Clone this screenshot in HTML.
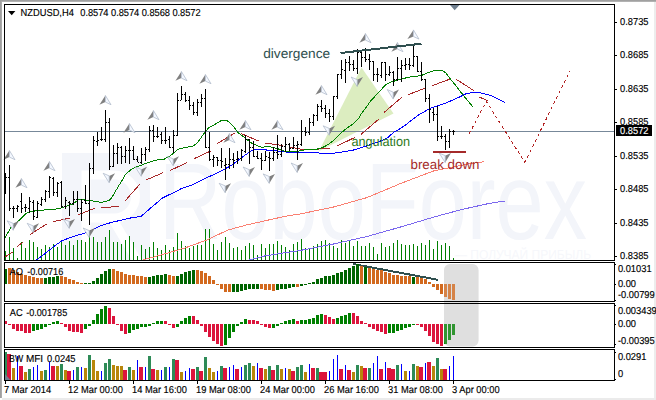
<!DOCTYPE html>
<html><head><meta charset="utf-8"><title>NZDUSD H4</title>
<style>html,body{margin:0;padding:0;background:#fff;overflow:hidden}body{width:656px;height:400px;position:relative;font-family:"Liberation Sans",sans-serif}</style></head>
<body>
<svg width="656" height="400" viewBox="0 0 656 400" text-rendering="geometricPrecision" style="position:absolute;left:0;top:0">
<rect width="656" height="400" fill="#fff"/>
<rect x="0" y="0" width="656" height="1" fill="#a0a0a0"/><rect x="0" y="1" width="656" height="1" fill="#b2b2b2"/>
<rect x="0" y="0" width="1" height="398" fill="#a0a0a0"/><rect x="1" y="1" width="1" height="397" fill="#ababab"/>
<rect x="654" y="2" width="2" height="396" fill="#ededed"/>
<rect x="2" y="398" width="654" height="2" fill="#ebebeb"/>
<polygon points="62,153 134,153 150,169 150,260 62,260" fill="#f3f5fa"/>
<path d="M86,262 V175 H114 a21,21 0 0 1 0,43 H88 M112,218 L138,262" fill="none" stroke="#fff" stroke-width="9"/>
<text x="159" y="239" font-family="Liberation Sans, sans-serif" font-size="109" fill="#f3f5fa" textLength="428" lengthAdjust="spacingAndGlyphs">RoboForex</text>
<text x="455" y="259" font-family="Liberation Sans, sans-serif" font-size="13" fill="#f6f7fb" textLength="136" lengthAdjust="spacingAndGlyphs">— ПОЛУЧАЙ ПРИБЫЛЬ</text>
<rect x="444" y="264" width="34.5" height="82.5" rx="6" ry="6" fill="#dfdfdf"/>
<polygon points="361.5,67.5 393.5,113.5 319,151" fill="#dcedc0"/>
<g shape-rendering="crispEdges">
<rect x="5" y="131" width="609" height="1" fill="#778899"/>
<rect x="5" y="251" width="1" height="9" fill="#008000"/>
<rect x="9" y="237" width="1" height="23" fill="#008000"/>
<rect x="13" y="248" width="1" height="12" fill="#008000"/>
<rect x="17" y="258" width="1" height="2" fill="#008000"/>
<rect x="21" y="242" width="1" height="18" fill="#008000"/>
<rect x="25" y="248" width="1" height="12" fill="#008000"/>
<rect x="29" y="240" width="1" height="20" fill="#008000"/>
<rect x="33" y="242" width="1" height="18" fill="#008000"/>
<rect x="37" y="247" width="1" height="13" fill="#008000"/>
<rect x="41" y="249" width="1" height="11" fill="#008000"/>
<rect x="45" y="245" width="1" height="15" fill="#008000"/>
<rect x="49" y="247" width="1" height="13" fill="#008000"/>
<rect x="53" y="244" width="1" height="16" fill="#008000"/>
<rect x="57" y="247" width="1" height="13" fill="#008000"/>
<rect x="61" y="240" width="1" height="20" fill="#008000"/>
<rect x="65" y="245" width="1" height="15" fill="#008000"/>
<rect x="69" y="241" width="1" height="19" fill="#008000"/>
<rect x="73" y="245" width="1" height="15" fill="#008000"/>
<rect x="77" y="240" width="1" height="20" fill="#008000"/>
<rect x="81" y="240" width="1" height="20" fill="#008000"/>
<rect x="85" y="242" width="1" height="18" fill="#008000"/>
<rect x="89" y="231" width="1" height="29" fill="#008000"/>
<rect x="93" y="237" width="1" height="23" fill="#008000"/>
<rect x="97" y="242" width="1" height="18" fill="#008000"/>
<rect x="101" y="242" width="1" height="18" fill="#008000"/>
<rect x="105" y="237" width="1" height="23" fill="#008000"/>
<rect x="109" y="230" width="1" height="30" fill="#008000"/>
<rect x="113" y="242" width="1" height="18" fill="#008000"/>
<rect x="117" y="242" width="1" height="18" fill="#008000"/>
<rect x="121" y="244" width="1" height="16" fill="#008000"/>
<rect x="125" y="240" width="1" height="20" fill="#008000"/>
<rect x="129" y="236" width="1" height="24" fill="#008000"/>
<rect x="133" y="242" width="1" height="18" fill="#008000"/>
<rect x="137" y="256" width="1" height="4" fill="#008000"/>
<rect x="141" y="245" width="1" height="15" fill="#008000"/>
<rect x="145" y="249" width="1" height="11" fill="#008000"/>
<rect x="149" y="247" width="1" height="13" fill="#008000"/>
<rect x="153" y="242" width="1" height="18" fill="#008000"/>
<rect x="157" y="248" width="1" height="12" fill="#008000"/>
<rect x="161" y="250" width="1" height="10" fill="#008000"/>
<rect x="165" y="245" width="1" height="15" fill="#008000"/>
<rect x="169" y="250" width="1" height="10" fill="#008000"/>
<rect x="173" y="247" width="1" height="13" fill="#008000"/>
<rect x="177" y="233" width="1" height="27" fill="#008000"/>
<rect x="181" y="241" width="1" height="19" fill="#008000"/>
<rect x="185" y="246" width="1" height="14" fill="#008000"/>
<rect x="189" y="248" width="1" height="12" fill="#008000"/>
<rect x="193" y="246" width="1" height="14" fill="#008000"/>
<rect x="197" y="245" width="1" height="15" fill="#008000"/>
<rect x="201" y="245" width="1" height="15" fill="#008000"/>
<rect x="205" y="229" width="1" height="31" fill="#008000"/>
<rect x="209" y="229" width="1" height="31" fill="#008000"/>
<rect x="213" y="244" width="1" height="16" fill="#008000"/>
<rect x="217" y="250" width="1" height="10" fill="#008000"/>
<rect x="221" y="242" width="1" height="18" fill="#008000"/>
<rect x="225" y="237" width="1" height="23" fill="#008000"/>
<rect x="229" y="243" width="1" height="17" fill="#008000"/>
<rect x="233" y="248" width="1" height="12" fill="#008000"/>
<rect x="237" y="247" width="1" height="13" fill="#008000"/>
<rect x="241" y="250" width="1" height="10" fill="#008000"/>
<rect x="245" y="246" width="1" height="14" fill="#008000"/>
<rect x="249" y="243" width="1" height="17" fill="#008000"/>
<rect x="253" y="245" width="1" height="15" fill="#008000"/>
<rect x="257" y="255" width="1" height="5" fill="#008000"/>
<rect x="261" y="244" width="1" height="16" fill="#008000"/>
<rect x="265" y="248" width="1" height="12" fill="#008000"/>
<rect x="269" y="244" width="1" height="16" fill="#008000"/>
<rect x="273" y="244" width="1" height="16" fill="#008000"/>
<rect x="277" y="241" width="1" height="19" fill="#008000"/>
<rect x="281" y="245" width="1" height="15" fill="#008000"/>
<rect x="285" y="247" width="1" height="13" fill="#008000"/>
<rect x="289" y="250" width="1" height="10" fill="#008000"/>
<rect x="293" y="244" width="1" height="16" fill="#008000"/>
<rect x="297" y="242" width="1" height="18" fill="#008000"/>
<rect x="301" y="239" width="1" height="21" fill="#008000"/>
<rect x="305" y="248" width="1" height="12" fill="#008000"/>
<rect x="309" y="248" width="1" height="12" fill="#008000"/>
<rect x="313" y="246" width="1" height="14" fill="#008000"/>
<rect x="317" y="244" width="1" height="16" fill="#008000"/>
<rect x="321" y="241" width="1" height="19" fill="#008000"/>
<rect x="325" y="240" width="1" height="20" fill="#008000"/>
<rect x="329" y="243" width="1" height="17" fill="#008000"/>
<rect x="333" y="246" width="1" height="14" fill="#008000"/>
<rect x="337" y="248" width="1" height="12" fill="#008000"/>
<rect x="341" y="240" width="1" height="20" fill="#008000"/>
<rect x="345" y="243" width="1" height="17" fill="#008000"/>
<rect x="349" y="241" width="1" height="19" fill="#008000"/>
<rect x="353" y="246" width="1" height="14" fill="#008000"/>
<rect x="357" y="241" width="1" height="19" fill="#008000"/>
<rect x="361" y="246" width="1" height="14" fill="#008000"/>
<rect x="365" y="246" width="1" height="14" fill="#008000"/>
<rect x="369" y="243" width="1" height="17" fill="#008000"/>
<rect x="373" y="247" width="1" height="13" fill="#008000"/>
<rect x="377" y="254" width="1" height="6" fill="#008000"/>
<rect x="381" y="243" width="1" height="17" fill="#008000"/>
<rect x="385" y="247" width="1" height="13" fill="#008000"/>
<rect x="389" y="246" width="1" height="14" fill="#008000"/>
<rect x="393" y="243" width="1" height="17" fill="#008000"/>
<rect x="397" y="240" width="1" height="20" fill="#008000"/>
<rect x="401" y="244" width="1" height="16" fill="#008000"/>
<rect x="405" y="245" width="1" height="15" fill="#008000"/>
<rect x="409" y="245" width="1" height="15" fill="#008000"/>
<rect x="413" y="244" width="1" height="16" fill="#008000"/>
<rect x="417" y="246" width="1" height="14" fill="#008000"/>
<rect x="421" y="243" width="1" height="17" fill="#008000"/>
<rect x="425" y="245" width="1" height="15" fill="#008000"/>
<rect x="429" y="240" width="1" height="20" fill="#008000"/>
<rect x="433" y="249" width="1" height="11" fill="#008000"/>
<rect x="437" y="241" width="1" height="19" fill="#008000"/>
<rect x="441" y="245" width="1" height="15" fill="#008000"/>
<rect x="445" y="243" width="1" height="17" fill="#008000"/>
<rect x="449" y="246" width="1" height="14" fill="#008000"/>
<rect x="453" y="258" width="1" height="2" fill="#008000"/>
</g>
<g fill="none" stroke-width="1" shape-rendering="crispEdges">
<polyline points="142.7,260.0 161.0,255.0 185.4,247.8 206.7,240.0 228.0,230.0 246.3,225.0 270.7,219.5 289.0,215.5 300.0,214.0 333.5,207.0 367.0,197.6 400.6,183.5 434.0,170.8 467.7,164.0 484.4,161.7" stroke="#fa8072"/>
<polyline points="249.4,260.0 264.6,256.0 283.0,253.0 300.0,250.5 333.5,244.0 367.0,236.5 400.6,227.0 434.0,217.0 461.0,209.7 487.8,203.7 504.6,201.0" stroke="#7b68ee"/>
<polyline points="36.6,260.0 45.7,253.0 54.9,245.7 62.2,240.6 73.2,236.6 82.3,233.8 89.6,231.5 100.6,225.6 109.8,222.9 115.0,221.6 130.5,218.0 141.0,216.4 151.8,207.0 162.5,198.0 176.0,191.4 181.0,188.8 193.5,184.4 206.0,178.0 218.5,172.5 231.0,165.6 236.0,162.0 241.0,158.0 247.0,153.8 251.0,151.0 255.0,149.4 262.0,149.5 270.0,150.4 280.0,151.2 288.0,152.2 316.0,152.2 321.0,153.5 331.0,153.5 341.0,152.2 353.5,150.0 366.0,146.2 378.5,141.9 387.2,138.0 393.5,132.5 398.0,130.0 405.4,125.0 418.5,115.0 429.8,108.5 446.0,103.0 458.5,97.5 466.0,93.8 473.5,92.2 478.0,92.2 491.8,95.8 505.0,102.7" stroke="#0000ff"/>
<line x1="5.5" y1="256.7" x2="12.8" y2="252" stroke="#a82828"/>
<line x1="17.4" y1="246.6" x2="22.9" y2="242" stroke="#a82828"/>
<line x1="30.2" y1="234.4" x2="46.6" y2="224" stroke="#a82828"/>
<line x1="53" y1="221.6" x2="70.4" y2="218" stroke="#a82828"/>
<line x1="77.7" y1="215" x2="95" y2="208.2" stroke="#a82828"/>
<line x1="101.5" y1="207.7" x2="119" y2="206.4" stroke="#a82828"/>
<line x1="125" y1="201" x2="140" y2="184" stroke="#a82828"/>
<line x1="146" y1="180" x2="163.5" y2="172.5" stroke="#a82828"/>
<line x1="170" y1="170.6" x2="187" y2="162.5" stroke="#a82828"/>
<line x1="194" y1="158.75" x2="211.5" y2="150.6" stroke="#a82828"/>
<line x1="217" y1="143.75" x2="235" y2="133" stroke="#a82828"/>
<line x1="241" y1="133.5" x2="258.5" y2="141" stroke="#a82828"/>
<line x1="265" y1="143" x2="283" y2="145.6" stroke="#a82828"/>
<line x1="290" y1="147" x2="304" y2="149.75" stroke="#a82828"/>
<line x1="311" y1="149.75" x2="330.4" y2="148" stroke="#a82828"/>
<line x1="337" y1="146" x2="354.75" y2="137.5" stroke="#a82828"/>
<line x1="361" y1="134.4" x2="378.5" y2="119.4" stroke="#a82828"/>
<line x1="384" y1="112.5" x2="401.6" y2="97.5" stroke="#a82828"/>
<line x1="408" y1="94.75" x2="425.4" y2="88" stroke="#a82828"/>
<line x1="432.25" y1="85.6" x2="449.75" y2="79.2" stroke="#a82828"/>
<line x1="456" y1="79.2" x2="473.7" y2="90.5" stroke="#a82828"/>
<line x1="479.4" y1="97" x2="488.5" y2="101.3" stroke="#a82828"/>
<polyline points="5.0,237.5 11.0,227.4 18.3,221.0 27.4,212.4 36.6,210.6 58.5,208.8 63.0,207.3 73.0,204.0 78.0,200.0 84.2,199.8 90.5,200.6 96.8,201.5 101.8,202.5 109.2,200.2 111.8,197.5 115.5,191.2 119.2,185.0 123.0,178.8 125.5,174.4 130.5,170.0 134.2,167.8 140.5,165.6 148.0,162.5 156.8,160.0 163.5,159.5 170.0,156.0 178.0,149.4 185.0,147.5 193.5,146.0 198.0,142.0 205.0,132.0 209.0,127.5 212.0,126.0 218.0,122.5 222.0,120.0 226.0,120.0 229.0,122.0 233.0,126.0 238.0,132.5 245.0,138.0 252.0,143.5 258.0,146.0 262.0,147.5 268.0,146.2 274.0,147.8 280.0,149.4 284.0,151.0 288.0,152.0 296.0,151.6 304.0,150.0 312.0,149.0 316.0,149.4 322.0,147.8 328.5,144.4 334.8,139.4 341.0,133.0 347.0,128.0 353.5,123.8 358.5,118.8 359.8,116.0 366.0,107.5 371.0,100.6 378.5,92.5 386.0,84.4 391.0,82.0 398.0,80.0 408.5,77.2 421.0,75.6 428.5,72.5 434.8,70.4 442.2,70.4 446.0,73.0 451.0,80.0 455.4,85.0 463.5,95.6 473.0,107.0" stroke="#008000"/>
<polyline points="469.2,133.8 486.3,101.3 524.8,162.4 570.2,70.5" stroke="#b22222" stroke-dasharray="3 3"/>
</g>
<g fill="#000" shape-rendering="crispEdges">
<rect x="5" y="173" width="1" height="21"/>
<rect x="6" y="177" width="1" height="1"/>
<rect x="9" y="165" width="1" height="46"/>
<rect x="8" y="177" width="1" height="1"/>
<rect x="10" y="208" width="1" height="1"/>
<rect x="13" y="206" width="1" height="12"/>
<rect x="12" y="208" width="1" height="1"/>
<rect x="14" y="208" width="1" height="1"/>
<rect x="17" y="205" width="1" height="7"/>
<rect x="16" y="208" width="1" height="1"/>
<rect x="18" y="206" width="1" height="1"/>
<rect x="21" y="193" width="1" height="20"/>
<rect x="20" y="201" width="1" height="1"/>
<rect x="22" y="208" width="1" height="1"/>
<rect x="25" y="204" width="1" height="8"/>
<rect x="24" y="207" width="1" height="1"/>
<rect x="26" y="207" width="1" height="1"/>
<rect x="29" y="197" width="1" height="16"/>
<rect x="28" y="208" width="1" height="1"/>
<rect x="30" y="201" width="1" height="1"/>
<rect x="33" y="200" width="1" height="20"/>
<rect x="32" y="202" width="1" height="1"/>
<rect x="34" y="216" width="1" height="1"/>
<rect x="37" y="201" width="1" height="17"/>
<rect x="36" y="217" width="1" height="1"/>
<rect x="38" y="203" width="1" height="1"/>
<rect x="41" y="197" width="1" height="9"/>
<rect x="40" y="204" width="1" height="1"/>
<rect x="42" y="199" width="1" height="1"/>
<rect x="45" y="190" width="1" height="12"/>
<rect x="44" y="199" width="1" height="1"/>
<rect x="46" y="191" width="1" height="1"/>
<rect x="49" y="176" width="1" height="22"/>
<rect x="48" y="191" width="1" height="1"/>
<rect x="50" y="177" width="1" height="1"/>
<rect x="53" y="177" width="1" height="19"/>
<rect x="52" y="178" width="1" height="1"/>
<rect x="54" y="192" width="1" height="1"/>
<rect x="57" y="182" width="1" height="15"/>
<rect x="56" y="192" width="1" height="1"/>
<rect x="58" y="183" width="1" height="1"/>
<rect x="61" y="181" width="1" height="27"/>
<rect x="60" y="182" width="1" height="1"/>
<rect x="62" y="206" width="1" height="1"/>
<rect x="65" y="197" width="1" height="12"/>
<rect x="64" y="206" width="1" height="1"/>
<rect x="66" y="200" width="1" height="1"/>
<rect x="69" y="201" width="1" height="15"/>
<rect x="68" y="202" width="1" height="1"/>
<rect x="70" y="203" width="1" height="1"/>
<rect x="73" y="191" width="1" height="14"/>
<rect x="72" y="203" width="1" height="1"/>
<rect x="74" y="199" width="1" height="1"/>
<rect x="77" y="191" width="1" height="21"/>
<rect x="76" y="199" width="1" height="1"/>
<rect x="78" y="208" width="1" height="1"/>
<rect x="81" y="199" width="1" height="22"/>
<rect x="80" y="208" width="1" height="1"/>
<rect x="82" y="202" width="1" height="1"/>
<rect x="85" y="185" width="1" height="19"/>
<rect x="84" y="200" width="1" height="1"/>
<rect x="86" y="203" width="1" height="1"/>
<rect x="89" y="163" width="1" height="62"/>
<rect x="88" y="203" width="1" height="1"/>
<rect x="90" y="168" width="1" height="1"/>
<rect x="93" y="136" width="1" height="38"/>
<rect x="92" y="168" width="1" height="1"/>
<rect x="94" y="140" width="1" height="1"/>
<rect x="97" y="132" width="1" height="14"/>
<rect x="96" y="141" width="1" height="1"/>
<rect x="98" y="140" width="1" height="1"/>
<rect x="101" y="127" width="1" height="14"/>
<rect x="100" y="139" width="1" height="1"/>
<rect x="102" y="139" width="1" height="1"/>
<rect x="105" y="110" width="1" height="32"/>
<rect x="104" y="139" width="1" height="1"/>
<rect x="106" y="122" width="1" height="1"/>
<rect x="109" y="118" width="1" height="52"/>
<rect x="108" y="122" width="1" height="1"/>
<rect x="110" y="166" width="1" height="1"/>
<rect x="113" y="145" width="1" height="22"/>
<rect x="112" y="166" width="1" height="1"/>
<rect x="114" y="153" width="1" height="1"/>
<rect x="117" y="143" width="1" height="21"/>
<rect x="116" y="153" width="1" height="1"/>
<rect x="118" y="147" width="1" height="1"/>
<rect x="121" y="146" width="1" height="18"/>
<rect x="120" y="147" width="1" height="1"/>
<rect x="122" y="156" width="1" height="1"/>
<rect x="125" y="146" width="1" height="17"/>
<rect x="124" y="156" width="1" height="1"/>
<rect x="126" y="150" width="1" height="1"/>
<rect x="129" y="138" width="1" height="26"/>
<rect x="128" y="150" width="1" height="1"/>
<rect x="130" y="150" width="1" height="1"/>
<rect x="133" y="146" width="1" height="14"/>
<rect x="132" y="150" width="1" height="1"/>
<rect x="134" y="159" width="1" height="1"/>
<rect x="137" y="156" width="1" height="6"/>
<rect x="136" y="159" width="1" height="1"/>
<rect x="138" y="162" width="1" height="1"/>
<rect x="141" y="148" width="1" height="16"/>
<rect x="140" y="162" width="1" height="1"/>
<rect x="142" y="154" width="1" height="1"/>
<rect x="145" y="147" width="1" height="14"/>
<rect x="144" y="154" width="1" height="1"/>
<rect x="146" y="149" width="1" height="1"/>
<rect x="149" y="126" width="1" height="26"/>
<rect x="148" y="149" width="1" height="1"/>
<rect x="150" y="130" width="1" height="1"/>
<rect x="153" y="125" width="1" height="17"/>
<rect x="152" y="130" width="1" height="1"/>
<rect x="154" y="136" width="1" height="1"/>
<rect x="157" y="127" width="1" height="11"/>
<rect x="156" y="136" width="1" height="1"/>
<rect x="158" y="136" width="1" height="1"/>
<rect x="161" y="132" width="1" height="12"/>
<rect x="160" y="134" width="1" height="1"/>
<rect x="162" y="140" width="1" height="1"/>
<rect x="165" y="127" width="1" height="17"/>
<rect x="164" y="140" width="1" height="1"/>
<rect x="166" y="140" width="1" height="1"/>
<rect x="169" y="136" width="1" height="12"/>
<rect x="168" y="139" width="1" height="1"/>
<rect x="170" y="147" width="1" height="1"/>
<rect x="173" y="130" width="1" height="23"/>
<rect x="172" y="147" width="1" height="1"/>
<rect x="174" y="135" width="1" height="1"/>
<rect x="177" y="93" width="1" height="43"/>
<rect x="176" y="135" width="1" height="1"/>
<rect x="178" y="100" width="1" height="1"/>
<rect x="181" y="86" width="1" height="14"/>
<rect x="180" y="100" width="1" height="1"/>
<rect x="182" y="94" width="1" height="1"/>
<rect x="185" y="92" width="1" height="10"/>
<rect x="184" y="94" width="1" height="1"/>
<rect x="186" y="100" width="1" height="1"/>
<rect x="189" y="96" width="1" height="14"/>
<rect x="188" y="100" width="1" height="1"/>
<rect x="190" y="105" width="1" height="1"/>
<rect x="193" y="102" width="1" height="13"/>
<rect x="192" y="105" width="1" height="1"/>
<rect x="194" y="112" width="1" height="1"/>
<rect x="197" y="99" width="1" height="17"/>
<rect x="196" y="112" width="1" height="1"/>
<rect x="198" y="102" width="1" height="1"/>
<rect x="201" y="94" width="1" height="13"/>
<rect x="200" y="102" width="1" height="1"/>
<rect x="202" y="98" width="1" height="1"/>
<rect x="205" y="89" width="1" height="59"/>
<rect x="204" y="98" width="1" height="1"/>
<rect x="206" y="147" width="1" height="1"/>
<rect x="209" y="132" width="1" height="29"/>
<rect x="208" y="147" width="1" height="1"/>
<rect x="210" y="159" width="1" height="1"/>
<rect x="213" y="155" width="1" height="12"/>
<rect x="212" y="159" width="1" height="1"/>
<rect x="214" y="157" width="1" height="1"/>
<rect x="217" y="157" width="1" height="9"/>
<rect x="216" y="157" width="1" height="1"/>
<rect x="218" y="160" width="1" height="1"/>
<rect x="221" y="148" width="1" height="20"/>
<rect x="220" y="160" width="1" height="1"/>
<rect x="222" y="161" width="1" height="1"/>
<rect x="225" y="158" width="1" height="22"/>
<rect x="224" y="165" width="1" height="1"/>
<rect x="226" y="164" width="1" height="1"/>
<rect x="229" y="148" width="1" height="21"/>
<rect x="228" y="164" width="1" height="1"/>
<rect x="230" y="159" width="1" height="1"/>
<rect x="233" y="153" width="1" height="15"/>
<rect x="232" y="159" width="1" height="1"/>
<rect x="234" y="160" width="1" height="1"/>
<rect x="237" y="151" width="1" height="13"/>
<rect x="236" y="159" width="1" height="1"/>
<rect x="238" y="158" width="1" height="1"/>
<rect x="241" y="149" width="1" height="12"/>
<rect x="240" y="158" width="1" height="1"/>
<rect x="242" y="150" width="1" height="1"/>
<rect x="245" y="135" width="1" height="18"/>
<rect x="244" y="151" width="1" height="1"/>
<rect x="246" y="139" width="1" height="1"/>
<rect x="249" y="139" width="1" height="25"/>
<rect x="248" y="139" width="1" height="1"/>
<rect x="250" y="147" width="1" height="1"/>
<rect x="253" y="141" width="1" height="16"/>
<rect x="252" y="147" width="1" height="1"/>
<rect x="254" y="156" width="1" height="1"/>
<rect x="257" y="151" width="1" height="8"/>
<rect x="256" y="156" width="1" height="1"/>
<rect x="258" y="158" width="1" height="1"/>
<rect x="261" y="153" width="1" height="17"/>
<rect x="260" y="158" width="1" height="1"/>
<rect x="262" y="160" width="1" height="1"/>
<rect x="265" y="151" width="1" height="10"/>
<rect x="264" y="160" width="1" height="1"/>
<rect x="266" y="156" width="1" height="1"/>
<rect x="269" y="152" width="1" height="19"/>
<rect x="268" y="157" width="1" height="1"/>
<rect x="270" y="158" width="1" height="1"/>
<rect x="273" y="147" width="1" height="14"/>
<rect x="272" y="158" width="1" height="1"/>
<rect x="274" y="152" width="1" height="1"/>
<rect x="277" y="135" width="1" height="24"/>
<rect x="276" y="152" width="1" height="1"/>
<rect x="278" y="154" width="1" height="1"/>
<rect x="281" y="144" width="1" height="13"/>
<rect x="280" y="154" width="1" height="1"/>
<rect x="282" y="146" width="1" height="1"/>
<rect x="285" y="137" width="1" height="15"/>
<rect x="284" y="146" width="1" height="1"/>
<rect x="286" y="144" width="1" height="1"/>
<rect x="289" y="143" width="1" height="8"/>
<rect x="288" y="144" width="1" height="1"/>
<rect x="290" y="148" width="1" height="1"/>
<rect x="293" y="137" width="1" height="12"/>
<rect x="292" y="148" width="1" height="1"/>
<rect x="294" y="145" width="1" height="1"/>
<rect x="297" y="141" width="1" height="19"/>
<rect x="296" y="145" width="1" height="1"/>
<rect x="298" y="144" width="1" height="1"/>
<rect x="301" y="120" width="1" height="26"/>
<rect x="300" y="144" width="1" height="1"/>
<rect x="302" y="131" width="1" height="1"/>
<rect x="305" y="127" width="1" height="9"/>
<rect x="304" y="131" width="1" height="1"/>
<rect x="306" y="132" width="1" height="1"/>
<rect x="309" y="118" width="1" height="17"/>
<rect x="308" y="132" width="1" height="1"/>
<rect x="310" y="122" width="1" height="1"/>
<rect x="313" y="114" width="1" height="12"/>
<rect x="312" y="122" width="1" height="1"/>
<rect x="314" y="115" width="1" height="1"/>
<rect x="317" y="104" width="1" height="17"/>
<rect x="316" y="115" width="1" height="1"/>
<rect x="318" y="106" width="1" height="1"/>
<rect x="321" y="100" width="1" height="12"/>
<rect x="320" y="106" width="1" height="1"/>
<rect x="322" y="108" width="1" height="1"/>
<rect x="325" y="105" width="1" height="13"/>
<rect x="324" y="108" width="1" height="1"/>
<rect x="326" y="113" width="1" height="1"/>
<rect x="329" y="109" width="1" height="13"/>
<rect x="328" y="113" width="1" height="1"/>
<rect x="330" y="116" width="1" height="1"/>
<rect x="333" y="96" width="1" height="24"/>
<rect x="332" y="116" width="1" height="1"/>
<rect x="334" y="96" width="1" height="1"/>
<rect x="337" y="74" width="1" height="25"/>
<rect x="336" y="96" width="1" height="1"/>
<rect x="338" y="74" width="1" height="1"/>
<rect x="341" y="60" width="1" height="19"/>
<rect x="340" y="74" width="1" height="1"/>
<rect x="342" y="69" width="1" height="1"/>
<rect x="345" y="59" width="1" height="24"/>
<rect x="344" y="70" width="1" height="1"/>
<rect x="346" y="62" width="1" height="1"/>
<rect x="349" y="56" width="1" height="15"/>
<rect x="348" y="62" width="1" height="1"/>
<rect x="350" y="64" width="1" height="1"/>
<rect x="353" y="60" width="1" height="11"/>
<rect x="352" y="64" width="1" height="1"/>
<rect x="354" y="68" width="1" height="1"/>
<rect x="357" y="49" width="1" height="25"/>
<rect x="356" y="68" width="1" height="1"/>
<rect x="358" y="52" width="1" height="1"/>
<rect x="361" y="50" width="1" height="17"/>
<rect x="360" y="52" width="1" height="1"/>
<rect x="362" y="57" width="1" height="1"/>
<rect x="365" y="48" width="1" height="14"/>
<rect x="364" y="57" width="1" height="1"/>
<rect x="366" y="59" width="1" height="1"/>
<rect x="369" y="54" width="1" height="16"/>
<rect x="368" y="59" width="1" height="1"/>
<rect x="370" y="61" width="1" height="1"/>
<rect x="373" y="61" width="1" height="20"/>
<rect x="372" y="61" width="1" height="1"/>
<rect x="374" y="74" width="1" height="1"/>
<rect x="377" y="68" width="1" height="14"/>
<rect x="376" y="74" width="1" height="1"/>
<rect x="378" y="74" width="1" height="1"/>
<rect x="381" y="62" width="1" height="16"/>
<rect x="380" y="75" width="1" height="1"/>
<rect x="382" y="62" width="1" height="1"/>
<rect x="385" y="62" width="1" height="19"/>
<rect x="384" y="62" width="1" height="1"/>
<rect x="386" y="74" width="1" height="1"/>
<rect x="389" y="66" width="1" height="10"/>
<rect x="388" y="74" width="1" height="1"/>
<rect x="390" y="72" width="1" height="1"/>
<rect x="393" y="71" width="1" height="15"/>
<rect x="392" y="72" width="1" height="1"/>
<rect x="394" y="79" width="1" height="1"/>
<rect x="397" y="57" width="1" height="24"/>
<rect x="396" y="79" width="1" height="1"/>
<rect x="398" y="68" width="1" height="1"/>
<rect x="401" y="60" width="1" height="22"/>
<rect x="400" y="68" width="1" height="1"/>
<rect x="402" y="65" width="1" height="1"/>
<rect x="405" y="58" width="1" height="12"/>
<rect x="404" y="65" width="1" height="1"/>
<rect x="406" y="64" width="1" height="1"/>
<rect x="409" y="58" width="1" height="12"/>
<rect x="408" y="64" width="1" height="1"/>
<rect x="410" y="65" width="1" height="1"/>
<rect x="413" y="44" width="1" height="23"/>
<rect x="412" y="65" width="1" height="1"/>
<rect x="414" y="56" width="1" height="1"/>
<rect x="417" y="56" width="1" height="16"/>
<rect x="416" y="56" width="1" height="1"/>
<rect x="418" y="71" width="1" height="1"/>
<rect x="421" y="62" width="1" height="19"/>
<rect x="420" y="71" width="1" height="1"/>
<rect x="422" y="79" width="1" height="1"/>
<rect x="425" y="79" width="1" height="23"/>
<rect x="424" y="79" width="1" height="1"/>
<rect x="426" y="98" width="1" height="1"/>
<rect x="429" y="94" width="1" height="29"/>
<rect x="428" y="98" width="1" height="1"/>
<rect x="430" y="109" width="1" height="1"/>
<rect x="433" y="108" width="1" height="13"/>
<rect x="432" y="112" width="1" height="1"/>
<rect x="434" y="114" width="1" height="1"/>
<rect x="437" y="106" width="1" height="35"/>
<rect x="436" y="114" width="1" height="1"/>
<rect x="438" y="136" width="1" height="1"/>
<rect x="441" y="126" width="1" height="13"/>
<rect x="440" y="136" width="1" height="1"/>
<rect x="442" y="136" width="1" height="1"/>
<rect x="445" y="134" width="1" height="16"/>
<rect x="444" y="136" width="1" height="1"/>
<rect x="446" y="141" width="1" height="1"/>
<rect x="449" y="129" width="1" height="19"/>
<rect x="448" y="141" width="1" height="1"/>
<rect x="450" y="131" width="1" height="1"/>
<rect x="453" y="130" width="1" height="5"/>
<rect x="452" y="131" width="1" height="1"/>
<rect x="454" y="131" width="1" height="1"/>
</g>
<polygon points="9.4,150.5 3.4000000000000004,159.7 9.4,157.1" fill="#808080"/><polygon points="9.4,150.5 15.0,159.7 9.4,157.1" fill="#f4f8ff" stroke="#a9b4c6" stroke-width="0.7"/>
<polygon points="21.4,178.5 15.4,187.7 21.4,185.1" fill="#808080"/><polygon points="21.4,178.5 27.0,187.7 21.4,185.1" fill="#f4f8ff" stroke="#a9b4c6" stroke-width="0.7"/>
<polygon points="49.4,161.5 43.4,170.7 49.4,168.1" fill="#808080"/><polygon points="49.4,161.5 55.0,170.7 49.4,168.1" fill="#f4f8ff" stroke="#a9b4c6" stroke-width="0.7"/>
<polygon points="105.4,95.5 99.4,104.7 105.4,102.1" fill="#808080"/><polygon points="105.4,95.5 111.0,104.7 105.4,102.1" fill="#f4f8ff" stroke="#a9b4c6" stroke-width="0.7"/>
<polygon points="129.4,123.5 123.4,132.7 129.4,130.1" fill="#808080"/><polygon points="129.4,123.5 135.0,132.7 129.4,130.1" fill="#f4f8ff" stroke="#a9b4c6" stroke-width="0.7"/>
<polygon points="153.4,110.5 147.4,119.7 153.4,117.1" fill="#808080"/><polygon points="153.4,110.5 159.0,119.7 153.4,117.1" fill="#f4f8ff" stroke="#a9b4c6" stroke-width="0.7"/>
<polygon points="181.4,71.5 175.4,80.7 181.4,78.1" fill="#808080"/><polygon points="181.4,71.5 187.0,80.7 181.4,78.1" fill="#f4f8ff" stroke="#a9b4c6" stroke-width="0.7"/>
<polygon points="205.4,74.5 199.4,83.7 205.4,81.1" fill="#808080"/><polygon points="205.4,74.5 211.0,83.7 205.4,81.1" fill="#f4f8ff" stroke="#a9b4c6" stroke-width="0.7"/>
<polygon points="229.4,133.5 223.4,142.7 229.4,140.1" fill="#808080"/><polygon points="229.4,133.5 235.0,142.7 229.4,140.1" fill="#f4f8ff" stroke="#a9b4c6" stroke-width="0.7"/>
<polygon points="245.4,120.5 239.4,129.7 245.4,127.1" fill="#808080"/><polygon points="245.4,120.5 251.0,129.7 245.4,127.1" fill="#f4f8ff" stroke="#a9b4c6" stroke-width="0.7"/>
<polygon points="277.4,120.5 271.4,129.7 277.4,127.1" fill="#808080"/><polygon points="277.4,120.5 283.0,129.7 277.4,127.1" fill="#f4f8ff" stroke="#a9b4c6" stroke-width="0.7"/>
<polygon points="321.4,85.5 315.4,94.7 321.4,92.1" fill="#808080"/><polygon points="321.4,85.5 327.0,94.7 321.4,92.1" fill="#f4f8ff" stroke="#a9b4c6" stroke-width="0.7"/>
<polygon points="365.4,33.5 359.4,42.7 365.4,40.1" fill="#808080"/><polygon points="365.4,33.5 371.0,42.7 365.4,40.1" fill="#f4f8ff" stroke="#a9b4c6" stroke-width="0.7"/>
<polygon points="397.4,42.5 391.4,51.7 397.4,49.1" fill="#808080"/><polygon points="397.4,42.5 403.0,51.7 397.4,49.1" fill="#f4f8ff" stroke="#a9b4c6" stroke-width="0.7"/>
<polygon points="413.4,29.9 407.4,39.1 413.4,36.5" fill="#808080"/><polygon points="413.4,29.9 419.0,39.1 413.4,36.5" fill="#f4f8ff" stroke="#a9b4c6" stroke-width="0.7"/>
<polygon points="13.2,230.3 19.0,220.8 13.2,223.4" fill="#808080"/><polygon points="13.2,230.3 7.2,220.8 13.2,223.4" fill="#f4f8ff" stroke="#a9b4c6" stroke-width="0.7"/>
<polygon points="33.2,232.8 39.0,223.3 33.2,225.9" fill="#808080"/><polygon points="33.2,232.8 27.2,223.3 33.2,225.9" fill="#f4f8ff" stroke="#a9b4c6" stroke-width="0.7"/>
<polygon points="69.2,228.4 75.0,218.9 69.2,221.5" fill="#808080"/><polygon points="69.2,228.4 63.2,218.9 69.2,221.5" fill="#f4f8ff" stroke="#a9b4c6" stroke-width="0.7"/>
<polygon points="89.2,237.5 95.0,228.0 89.2,230.6" fill="#808080"/><polygon points="89.2,237.5 83.2,228.0 89.2,230.6" fill="#f4f8ff" stroke="#a9b4c6" stroke-width="0.7"/>
<polygon points="109.2,182.8 115.0,173.3 109.2,175.9" fill="#808080"/><polygon points="109.2,182.8 103.2,173.3 109.2,175.9" fill="#f4f8ff" stroke="#a9b4c6" stroke-width="0.7"/>
<polygon points="141.2,176.3 147.0,166.8 141.2,169.4" fill="#808080"/><polygon points="141.2,176.3 135.2,166.8 141.2,169.4" fill="#f4f8ff" stroke="#a9b4c6" stroke-width="0.7"/>
<polygon points="173.2,165.8 179.0,156.3 173.2,158.9" fill="#808080"/><polygon points="173.2,165.8 167.2,156.3 173.2,158.9" fill="#f4f8ff" stroke="#a9b4c6" stroke-width="0.7"/>
<polygon points="225.2,192.8 231.0,183.3 225.2,185.9" fill="#808080"/><polygon points="225.2,192.8 219.2,183.3 225.2,185.9" fill="#f4f8ff" stroke="#a9b4c6" stroke-width="0.7"/>
<polygon points="249.2,176.55 255.0,167.05 249.2,169.65" fill="#808080"/><polygon points="249.2,176.55 243.2,167.05 249.2,169.65" fill="#f4f8ff" stroke="#a9b4c6" stroke-width="0.7"/>
<polygon points="269.2,183.4 275.0,173.9 269.2,176.5" fill="#808080"/><polygon points="269.2,183.4 263.2,173.9 269.2,176.5" fill="#f4f8ff" stroke="#a9b4c6" stroke-width="0.7"/>
<polygon points="297.2,172.55 303.0,163.05 297.2,165.65" fill="#808080"/><polygon points="297.2,172.55 291.2,163.05 297.2,165.65" fill="#f4f8ff" stroke="#a9b4c6" stroke-width="0.7"/>
<polygon points="329.2,135.3 335.0,125.8 329.2,128.4" fill="#808080"/><polygon points="329.2,135.3 323.2,125.8 329.2,128.4" fill="#f4f8ff" stroke="#a9b4c6" stroke-width="0.7"/>
<polygon points="357.2,86.55 363.0,77.05 357.2,79.65" fill="#808080"/><polygon points="357.2,86.55 351.2,77.05 357.2,79.65" fill="#f4f8ff" stroke="#a9b4c6" stroke-width="0.7"/>
<polygon points="393.2,99.05 399.0,89.55 393.2,92.15" fill="#808080"/><polygon points="393.2,99.05 387.2,89.55 393.2,92.15" fill="#f4f8ff" stroke="#a9b4c6" stroke-width="0.7"/>
<polygon points="445.2,162.55 451.0,153.05 445.2,155.65" fill="#808080"/><polygon points="445.2,162.55 439.2,153.05 445.2,155.65" fill="#f4f8ff" stroke="#a9b4c6" stroke-width="0.7"/>
<line x1="340.5" y1="53" x2="421.5" y2="43.7" stroke="#2f4f4f" stroke-width="2" shape-rendering="crispEdges"/>
<line x1="353" y1="264" x2="438" y2="279.8" stroke="#2f4f4f" stroke-width="2" shape-rendering="crispEdges"/>
<rect x="433" y="151" width="33" height="2" fill="#a52a2a" shape-rendering="crispEdges"/>
<text x="263.2" y="57.8" font-family="Liberation Sans, sans-serif" font-size="13.33" fill="#2f4f4f" textLength="67" lengthAdjust="spacingAndGlyphs">divergence</text>
<text x="351.4" y="146.4" font-family="Liberation Sans, sans-serif" font-size="13.33" fill="#2f7a1c" textLength="58.7" lengthAdjust="spacingAndGlyphs">angulation</text>
<text x="410.5" y="168.5" font-family="Liberation Sans, sans-serif" font-size="13.33" fill="#a52a2a" textLength="69" lengthAdjust="spacingAndGlyphs">break down</text>
<g shape-rendering="crispEdges">
<rect x="5" y="269" width="2" height="15" fill="#006400"/>
<rect x="8" y="268" width="3" height="16" fill="#d2691e"/>
<rect x="12" y="270" width="3" height="14" fill="#d2691e"/>
<rect x="16" y="272" width="3" height="12" fill="#d2691e"/>
<rect x="20" y="274" width="3" height="10" fill="#d2691e"/>
<rect x="24" y="275" width="3" height="9" fill="#d2691e"/>
<rect x="28" y="276" width="3" height="8" fill="#d2691e"/>
<rect x="32" y="277" width="3" height="7" fill="#d2691e"/>
<rect x="36" y="278" width="3" height="6" fill="#d2691e"/>
<rect x="40" y="278" width="3" height="6" fill="#d2691e"/>
<rect x="44" y="278" width="3" height="6" fill="#006400"/>
<rect x="48" y="277" width="3" height="7" fill="#006400"/>
<rect x="52" y="277" width="3" height="7" fill="#006400"/>
<rect x="56" y="276" width="3" height="8" fill="#006400"/>
<rect x="60" y="276" width="3" height="8" fill="#d2691e"/>
<rect x="64" y="277" width="3" height="7" fill="#d2691e"/>
<rect x="68" y="279" width="3" height="5" fill="#d2691e"/>
<rect x="72" y="280" width="3" height="4" fill="#d2691e"/>
<rect x="76" y="282" width="3" height="2" fill="#d2691e"/>
<rect x="80" y="283" width="3" height="1" fill="#d2691e"/>
<rect x="84" y="283" width="3" height="1" fill="#006400"/>
<rect x="88" y="283" width="3" height="1" fill="#006400"/>
<rect x="92" y="281" width="3" height="3" fill="#006400"/>
<rect x="96" y="278" width="3" height="6" fill="#006400"/>
<rect x="100" y="274" width="3" height="10" fill="#006400"/>
<rect x="104" y="271" width="3" height="13" fill="#006400"/>
<rect x="108" y="269" width="3" height="15" fill="#006400"/>
<rect x="112" y="269" width="3" height="15" fill="#d2691e"/>
<rect x="116" y="271" width="3" height="13" fill="#d2691e"/>
<rect x="120" y="272" width="3" height="12" fill="#d2691e"/>
<rect x="124" y="274" width="3" height="10" fill="#d2691e"/>
<rect x="128" y="275" width="3" height="9" fill="#d2691e"/>
<rect x="132" y="275" width="3" height="9" fill="#d2691e"/>
<rect x="136" y="276" width="3" height="8" fill="#d2691e"/>
<rect x="140" y="276" width="3" height="8" fill="#d2691e"/>
<rect x="144" y="277" width="3" height="7" fill="#d2691e"/>
<rect x="148" y="277" width="3" height="7" fill="#006400"/>
<rect x="152" y="276" width="3" height="8" fill="#006400"/>
<rect x="156" y="275" width="3" height="9" fill="#006400"/>
<rect x="160" y="275" width="3" height="9" fill="#006400"/>
<rect x="164" y="274" width="3" height="10" fill="#006400"/>
<rect x="168" y="275" width="3" height="9" fill="#d2691e"/>
<rect x="172" y="276" width="3" height="8" fill="#d2691e"/>
<rect x="176" y="276" width="3" height="8" fill="#006400"/>
<rect x="180" y="274" width="3" height="10" fill="#006400"/>
<rect x="184" y="272" width="3" height="12" fill="#006400"/>
<rect x="188" y="271" width="3" height="13" fill="#006400"/>
<rect x="192" y="270" width="3" height="14" fill="#006400"/>
<rect x="196" y="270" width="3" height="14" fill="#d2691e"/>
<rect x="200" y="271" width="3" height="13" fill="#d2691e"/>
<rect x="204" y="273" width="3" height="11" fill="#d2691e"/>
<rect x="208" y="276" width="3" height="8" fill="#d2691e"/>
<rect x="212" y="280" width="3" height="4" fill="#d2691e"/>
<rect x="216" y="284" width="3" height="1" fill="#d2691e"/>
<rect x="220" y="284" width="3" height="5" fill="#d2691e"/>
<rect x="224" y="284" width="3" height="8" fill="#d2691e"/>
<rect x="228" y="284" width="3" height="8" fill="#d2691e"/>
<rect x="232" y="284" width="3" height="8" fill="#006400"/>
<rect x="236" y="284" width="3" height="8" fill="#006400"/>
<rect x="240" y="284" width="3" height="7" fill="#006400"/>
<rect x="244" y="284" width="3" height="6" fill="#006400"/>
<rect x="248" y="284" width="3" height="5" fill="#006400"/>
<rect x="252" y="284" width="3" height="5" fill="#006400"/>
<rect x="256" y="284" width="3" height="5" fill="#006400"/>
<rect x="260" y="284" width="3" height="5" fill="#d2691e"/>
<rect x="264" y="284" width="3" height="6" fill="#d2691e"/>
<rect x="268" y="284" width="3" height="6" fill="#d2691e"/>
<rect x="272" y="284" width="3" height="7" fill="#d2691e"/>
<rect x="276" y="284" width="3" height="6" fill="#006400"/>
<rect x="280" y="284" width="3" height="5" fill="#006400"/>
<rect x="284" y="284" width="3" height="5" fill="#006400"/>
<rect x="288" y="284" width="3" height="4" fill="#006400"/>
<rect x="292" y="284" width="3" height="3" fill="#006400"/>
<rect x="296" y="284" width="3" height="3" fill="#d2691e"/>
<rect x="300" y="284" width="3" height="2" fill="#006400"/>
<rect x="304" y="284" width="3" height="1" fill="#006400"/>
<rect x="308" y="283" width="3" height="1" fill="#006400"/>
<rect x="312" y="282" width="3" height="2" fill="#006400"/>
<rect x="316" y="279" width="3" height="5" fill="#006400"/>
<rect x="320" y="278" width="3" height="6" fill="#006400"/>
<rect x="324" y="276" width="3" height="8" fill="#006400"/>
<rect x="328" y="276" width="3" height="8" fill="#006400"/>
<rect x="332" y="275" width="3" height="9" fill="#006400"/>
<rect x="336" y="273" width="3" height="11" fill="#006400"/>
<rect x="340" y="272" width="3" height="12" fill="#006400"/>
<rect x="344" y="270" width="3" height="14" fill="#006400"/>
<rect x="348" y="268" width="3" height="16" fill="#006400"/>
<rect x="352" y="266" width="3" height="18" fill="#006400"/>
<rect x="356" y="264" width="3" height="20" fill="#006400"/>
<rect x="360" y="266" width="3" height="18" fill="#d2691e"/>
<rect x="364" y="267" width="3" height="17" fill="#006400"/>
<rect x="368" y="268" width="3" height="16" fill="#d2691e"/>
<rect x="372" y="269" width="3" height="15" fill="#d2691e"/>
<rect x="376" y="270" width="3" height="14" fill="#d2691e"/>
<rect x="380" y="270" width="3" height="14" fill="#d2691e"/>
<rect x="384" y="272" width="3" height="12" fill="#d2691e"/>
<rect x="388" y="273" width="3" height="11" fill="#d2691e"/>
<rect x="392" y="275" width="3" height="9" fill="#d2691e"/>
<rect x="396" y="275" width="3" height="9" fill="#d2691e"/>
<rect x="400" y="276" width="3" height="8" fill="#d2691e"/>
<rect x="404" y="276" width="3" height="8" fill="#d2691e"/>
<rect x="408" y="276" width="3" height="8" fill="#d2691e"/>
<rect x="412" y="277" width="3" height="7" fill="#006400"/>
<rect x="416" y="277" width="3" height="7" fill="#d2691e"/>
<rect x="420" y="278" width="3" height="6" fill="#d2691e"/>
<rect x="424" y="279" width="3" height="5" fill="#d2691e"/>
<rect x="428" y="282" width="3" height="2" fill="#d2691e"/>
<rect x="432" y="284" width="3" height="3" fill="#d2691e"/>
<rect x="436" y="284" width="3" height="6" fill="#d2691e"/>
<rect x="440" y="284" width="3" height="10" fill="#d2691e"/>
<rect x="444" y="284" width="3" height="13" fill="#d2691e"/>
<rect x="448" y="284" width="3" height="15" fill="#d2691e"/>
<rect x="452" y="284" width="3" height="16" fill="#d2691e"/>
<rect x="5" y="321" width="2" height="3" fill="#dc143c"/>
<rect x="8" y="324" width="3" height="1" fill="#dc143c"/>
<rect x="12" y="324" width="3" height="5" fill="#dc143c"/>
<rect x="16" y="324" width="3" height="7" fill="#dc143c"/>
<rect x="20" y="324" width="3" height="7" fill="#dc143c"/>
<rect x="24" y="324" width="3" height="9" fill="#dc143c"/>
<rect x="28" y="324" width="3" height="9" fill="#dc143c"/>
<rect x="32" y="324" width="3" height="7" fill="#008000"/>
<rect x="36" y="324" width="3" height="6" fill="#008000"/>
<rect x="40" y="324" width="3" height="5" fill="#008000"/>
<rect x="44" y="324" width="3" height="3" fill="#008000"/>
<rect x="48" y="324" width="3" height="1" fill="#008000"/>
<rect x="52" y="322" width="3" height="2" fill="#008000"/>
<rect x="56" y="321" width="3" height="3" fill="#008000"/>
<rect x="60" y="323" width="3" height="1" fill="#dc143c"/>
<rect x="64" y="324" width="3" height="3" fill="#dc143c"/>
<rect x="68" y="324" width="3" height="7" fill="#dc143c"/>
<rect x="72" y="324" width="3" height="8" fill="#dc143c"/>
<rect x="76" y="324" width="3" height="8" fill="#dc143c"/>
<rect x="80" y="324" width="3" height="9" fill="#dc143c"/>
<rect x="84" y="324" width="3" height="5" fill="#008000"/>
<rect x="88" y="324" width="3" height="2" fill="#008000"/>
<rect x="92" y="320" width="3" height="4" fill="#008000"/>
<rect x="96" y="314" width="3" height="10" fill="#008000"/>
<rect x="100" y="309" width="3" height="15" fill="#008000"/>
<rect x="104" y="306" width="3" height="18" fill="#008000"/>
<rect x="108" y="308" width="3" height="16" fill="#dc143c"/>
<rect x="112" y="316" width="3" height="8" fill="#dc143c"/>
<rect x="116" y="324" width="3" height="1" fill="#dc143c"/>
<rect x="120" y="324" width="3" height="7" fill="#dc143c"/>
<rect x="124" y="324" width="3" height="10" fill="#dc143c"/>
<rect x="128" y="324" width="3" height="9" fill="#008000"/>
<rect x="132" y="324" width="3" height="6" fill="#008000"/>
<rect x="136" y="324" width="3" height="5" fill="#008000"/>
<rect x="140" y="324" width="3" height="3" fill="#008000"/>
<rect x="144" y="324" width="3" height="3" fill="#008000"/>
<rect x="148" y="324" width="3" height="2" fill="#008000"/>
<rect x="152" y="323" width="3" height="1" fill="#008000"/>
<rect x="156" y="321" width="3" height="3" fill="#008000"/>
<rect x="160" y="321" width="3" height="3" fill="#008000"/>
<rect x="164" y="321" width="3" height="3" fill="#dc143c"/>
<rect x="168" y="324" width="3" height="1" fill="#dc143c"/>
<rect x="172" y="324" width="3" height="4" fill="#dc143c"/>
<rect x="176" y="324" width="3" height="3" fill="#008000"/>
<rect x="180" y="321" width="3" height="3" fill="#008000"/>
<rect x="184" y="318" width="3" height="6" fill="#008000"/>
<rect x="188" y="316" width="3" height="8" fill="#008000"/>
<rect x="192" y="316" width="3" height="8" fill="#dc143c"/>
<rect x="196" y="320" width="3" height="4" fill="#dc143c"/>
<rect x="200" y="324" width="3" height="2" fill="#dc143c"/>
<rect x="204" y="324" width="3" height="8" fill="#dc143c"/>
<rect x="208" y="324" width="3" height="13" fill="#dc143c"/>
<rect x="212" y="324" width="3" height="17" fill="#dc143c"/>
<rect x="216" y="324" width="3" height="20" fill="#dc143c"/>
<rect x="220" y="324" width="3" height="22" fill="#dc143c"/>
<rect x="224" y="324" width="3" height="21" fill="#008000"/>
<rect x="228" y="324" width="3" height="14" fill="#008000"/>
<rect x="232" y="324" width="3" height="8" fill="#008000"/>
<rect x="236" y="324" width="3" height="2" fill="#008000"/>
<rect x="240" y="322" width="3" height="2" fill="#008000"/>
<rect x="244" y="319" width="3" height="5" fill="#008000"/>
<rect x="248" y="320" width="3" height="4" fill="#dc143c"/>
<rect x="252" y="320" width="3" height="4" fill="#dc143c"/>
<rect x="256" y="321" width="3" height="3" fill="#dc143c"/>
<rect x="260" y="324" width="3" height="1" fill="#dc143c"/>
<rect x="264" y="324" width="3" height="3" fill="#dc143c"/>
<rect x="268" y="324" width="3" height="4" fill="#dc143c"/>
<rect x="272" y="324" width="3" height="4" fill="#008000"/>
<rect x="276" y="324" width="3" height="2" fill="#008000"/>
<rect x="280" y="323" width="3" height="1" fill="#008000"/>
<rect x="284" y="321" width="3" height="3" fill="#008000"/>
<rect x="288" y="320" width="3" height="4" fill="#008000"/>
<rect x="292" y="319" width="3" height="5" fill="#008000"/>
<rect x="296" y="321" width="3" height="3" fill="#dc143c"/>
<rect x="300" y="320" width="3" height="4" fill="#008000"/>
<rect x="304" y="320" width="3" height="4" fill="#008000"/>
<rect x="308" y="319" width="3" height="5" fill="#008000"/>
<rect x="312" y="318" width="3" height="6" fill="#008000"/>
<rect x="316" y="315" width="3" height="9" fill="#008000"/>
<rect x="320" y="314" width="3" height="10" fill="#008000"/>
<rect x="324" y="315" width="3" height="9" fill="#dc143c"/>
<rect x="328" y="317" width="3" height="7" fill="#dc143c"/>
<rect x="332" y="319" width="3" height="5" fill="#dc143c"/>
<rect x="336" y="318" width="3" height="6" fill="#008000"/>
<rect x="340" y="316" width="3" height="8" fill="#008000"/>
<rect x="344" y="315" width="3" height="9" fill="#008000"/>
<rect x="348" y="313" width="3" height="11" fill="#008000"/>
<rect x="352" y="313" width="3" height="11" fill="#dc143c"/>
<rect x="356" y="316" width="3" height="8" fill="#dc143c"/>
<rect x="360" y="321" width="3" height="3" fill="#dc143c"/>
<rect x="364" y="323" width="3" height="1" fill="#dc143c"/>
<rect x="368" y="324" width="3" height="3" fill="#dc143c"/>
<rect x="372" y="324" width="3" height="5" fill="#dc143c"/>
<rect x="376" y="324" width="3" height="7" fill="#dc143c"/>
<rect x="380" y="324" width="3" height="8" fill="#dc143c"/>
<rect x="384" y="324" width="3" height="10" fill="#dc143c"/>
<rect x="388" y="324" width="3" height="9" fill="#008000"/>
<rect x="392" y="324" width="3" height="9" fill="#008000"/>
<rect x="396" y="324" width="3" height="7" fill="#008000"/>
<rect x="400" y="324" width="3" height="6" fill="#008000"/>
<rect x="404" y="324" width="3" height="4" fill="#008000"/>
<rect x="408" y="324" width="3" height="3" fill="#008000"/>
<rect x="412" y="324" width="3" height="1" fill="#008000"/>
<rect x="416" y="324" width="3" height="1" fill="#dc143c"/>
<rect x="420" y="324" width="3" height="3" fill="#dc143c"/>
<rect x="424" y="324" width="3" height="7" fill="#dc143c"/>
<rect x="428" y="324" width="3" height="12" fill="#dc143c"/>
<rect x="432" y="324" width="3" height="18" fill="#dc143c"/>
<rect x="436" y="324" width="3" height="20" fill="#dc143c"/>
<rect x="440" y="324" width="3" height="22" fill="#dc143c"/>
<rect x="444" y="324" width="3" height="20" fill="#008000"/>
<rect x="448" y="324" width="3" height="16" fill="#008000"/>
<rect x="452" y="324" width="3" height="11" fill="#008000"/>
<rect x="5" y="352" width="2" height="28" fill="#2e8b57"/>
<rect x="7" y="354" width="4" height="26" fill="#dc143c"/>
<rect x="12" y="368" width="3" height="12" fill="#b8860b"/>
<rect x="17" y="356" width="1" height="24" fill="#0000ff"/>
<rect x="19" y="366" width="4" height="14" fill="#dc143c"/>
<rect x="24" y="372" width="3" height="8" fill="#b8860b"/>
<rect x="28" y="369" width="3" height="11" fill="#2e8b57"/>
<rect x="33" y="367" width="1" height="13" fill="#0000ff"/>
<rect x="37" y="365" width="1" height="15" fill="#0000ff"/>
<rect x="40" y="371" width="3" height="9" fill="#b8860b"/>
<rect x="44" y="370" width="3" height="10" fill="#2e8b57"/>
<rect x="49" y="362" width="1" height="18" fill="#0000ff"/>
<rect x="51" y="366" width="4" height="14" fill="#dc143c"/>
<rect x="56" y="366" width="3" height="14" fill="#b8860b"/>
<rect x="60" y="364" width="3" height="16" fill="#2e8b57"/>
<rect x="64" y="370" width="3" height="10" fill="#b8860b"/>
<rect x="67" y="371" width="4" height="9" fill="#dc143c"/>
<rect x="73" y="370" width="1" height="10" fill="#0000ff"/>
<rect x="76" y="367" width="3" height="13" fill="#2e8b57"/>
<rect x="81" y="367" width="1" height="13" fill="#0000ff"/>
<rect x="84" y="368" width="3" height="12" fill="#b8860b"/>
<rect x="88" y="355" width="3" height="25" fill="#2e8b57"/>
<rect x="92" y="360" width="3" height="20" fill="#b8860b"/>
<rect x="96" y="371" width="3" height="9" fill="#b8860b"/>
<rect x="101" y="371" width="1" height="9" fill="#0000ff"/>
<rect x="104" y="363" width="3" height="17" fill="#2e8b57"/>
<rect x="108" y="359" width="3" height="21" fill="#2e8b57"/>
<rect x="112" y="365" width="3" height="15" fill="#b8860b"/>
<rect x="116" y="366" width="3" height="14" fill="#b8860b"/>
<rect x="120" y="366" width="3" height="14" fill="#b8860b"/>
<rect x="123" y="370" width="4" height="10" fill="#dc143c"/>
<rect x="128" y="367" width="3" height="13" fill="#2e8b57"/>
<rect x="132" y="370" width="3" height="10" fill="#b8860b"/>
<rect x="137" y="360" width="1" height="20" fill="#0000ff"/>
<rect x="139" y="367" width="4" height="13" fill="#dc143c"/>
<rect x="145" y="367" width="1" height="13" fill="#0000ff"/>
<rect x="148" y="356" width="3" height="24" fill="#2e8b57"/>
<rect x="151" y="369" width="4" height="11" fill="#dc143c"/>
<rect x="156" y="370" width="3" height="10" fill="#b8860b"/>
<rect x="161" y="370" width="1" height="10" fill="#0000ff"/>
<rect x="164" y="367" width="3" height="13" fill="#2e8b57"/>
<rect x="169" y="367" width="1" height="13" fill="#0000ff"/>
<rect x="172" y="359" width="3" height="21" fill="#2e8b57"/>
<rect x="175" y="360" width="4" height="20" fill="#dc143c"/>
<rect x="180" y="372" width="3" height="8" fill="#b8860b"/>
<rect x="185" y="371" width="1" height="9" fill="#0000ff"/>
<rect x="189" y="368" width="1" height="12" fill="#0000ff"/>
<rect x="191" y="369" width="4" height="11" fill="#dc143c"/>
<rect x="196" y="367" width="3" height="13" fill="#2e8b57"/>
<rect x="199" y="371" width="4" height="9" fill="#dc143c"/>
<rect x="204" y="357" width="3" height="23" fill="#2e8b57"/>
<rect x="208" y="368" width="3" height="12" fill="#b8860b"/>
<rect x="212" y="372" width="3" height="8" fill="#b8860b"/>
<rect x="217" y="371" width="1" height="9" fill="#0000ff"/>
<rect x="220" y="366" width="3" height="14" fill="#2e8b57"/>
<rect x="223" y="368" width="4" height="12" fill="#dc143c"/>
<rect x="229" y="367" width="1" height="13" fill="#0000ff"/>
<rect x="233" y="365" width="1" height="15" fill="#0000ff"/>
<rect x="235" y="369" width="4" height="11" fill="#dc143c"/>
<rect x="241" y="367" width="1" height="13" fill="#0000ff"/>
<rect x="244" y="365" width="3" height="15" fill="#2e8b57"/>
<rect x="248" y="363" width="3" height="17" fill="#2e8b57"/>
<rect x="252" y="366" width="3" height="14" fill="#b8860b"/>
<rect x="257" y="363" width="1" height="17" fill="#0000ff"/>
<rect x="259" y="368" width="4" height="12" fill="#dc143c"/>
<rect x="264" y="369" width="3" height="11" fill="#b8860b"/>
<rect x="268" y="366" width="3" height="14" fill="#2e8b57"/>
<rect x="271" y="370" width="4" height="10" fill="#dc143c"/>
<rect x="276" y="365" width="3" height="15" fill="#2e8b57"/>
<rect x="280" y="369" width="3" height="11" fill="#b8860b"/>
<rect x="285" y="368" width="1" height="12" fill="#0000ff"/>
<rect x="288" y="369" width="3" height="11" fill="#b8860b"/>
<rect x="291" y="371" width="4" height="9" fill="#dc143c"/>
<rect x="296" y="367" width="3" height="13" fill="#2e8b57"/>
<rect x="300" y="365" width="3" height="15" fill="#2e8b57"/>
<rect x="304" y="372" width="3" height="8" fill="#b8860b"/>
<rect x="309" y="364" width="1" height="16" fill="#0000ff"/>
<rect x="311" y="368" width="4" height="12" fill="#dc143c"/>
<rect x="316" y="368" width="3" height="12" fill="#2e8b57"/>
<rect x="319" y="372" width="4" height="8" fill="#dc143c"/>
<rect x="323" y="372" width="4" height="8" fill="#dc143c"/>
<rect x="329" y="371" width="1" height="9" fill="#0000ff"/>
<rect x="333" y="359" width="1" height="21" fill="#0000ff"/>
<rect x="337" y="355" width="1" height="25" fill="#0000ff"/>
<rect x="339" y="369" width="4" height="11" fill="#dc143c"/>
<rect x="345" y="365" width="1" height="15" fill="#0000ff"/>
<rect x="347" y="370" width="4" height="10" fill="#dc143c"/>
<rect x="352" y="372" width="3" height="8" fill="#b8860b"/>
<rect x="356" y="365" width="3" height="15" fill="#2e8b57"/>
<rect x="360" y="366" width="3" height="14" fill="#b8860b"/>
<rect x="363" y="368" width="4" height="12" fill="#dc143c"/>
<rect x="368" y="368" width="3" height="12" fill="#2e8b57"/>
<rect x="373" y="363" width="1" height="17" fill="#0000ff"/>
<rect x="377" y="356" width="1" height="24" fill="#0000ff"/>
<rect x="379" y="369" width="4" height="11" fill="#dc143c"/>
<rect x="385" y="362" width="1" height="18" fill="#0000ff"/>
<rect x="387" y="368" width="4" height="12" fill="#dc143c"/>
<rect x="391" y="369" width="4" height="11" fill="#dc143c"/>
<rect x="396" y="365" width="3" height="15" fill="#2e8b57"/>
<rect x="401" y="364" width="1" height="16" fill="#0000ff"/>
<rect x="404" y="371" width="3" height="9" fill="#b8860b"/>
<rect x="409" y="371" width="1" height="9" fill="#0000ff"/>
<rect x="412" y="364" width="3" height="16" fill="#2e8b57"/>
<rect x="416" y="366" width="3" height="14" fill="#b8860b"/>
<rect x="419" y="367" width="4" height="13" fill="#dc143c"/>
<rect x="425" y="363" width="1" height="17" fill="#0000ff"/>
<rect x="427" y="362" width="4" height="18" fill="#dc143c"/>
<rect x="432" y="366" width="3" height="14" fill="#b8860b"/>
<rect x="436" y="358" width="3" height="22" fill="#2e8b57"/>
<rect x="440" y="369" width="3" height="11" fill="#b8860b"/>
<rect x="443" y="369" width="4" height="11" fill="#dc143c"/>
<rect x="449" y="366" width="1" height="14" fill="#0000ff"/>
<rect x="453" y="356" width="1" height="24" fill="#0000ff"/>
</g>
<rect x="444" y="264" width="34.5" height="82.5" rx="6" ry="6" fill="#dfdfdf" opacity="0.22"/>
<polygon points="5,374 5,380 10.5,380" fill="#708090"/>
<g fill="none" stroke="#000" stroke-width="1" shape-rendering="crispEdges">
<rect x="4.5" y="4.5" width="610" height="256"/>
<rect x="4.5" y="262.5" width="610" height="39"/>
<rect x="4.5" y="303.5" width="610" height="44"/>
<rect x="4.5" y="349.5" width="610" height="31"/>
</g>
<polygon points="450,5 459.5,5 454.7,10.3" fill="#708090"/>
<g fill="#000" shape-rendering="crispEdges">
<rect x="615" y="22" width="2" height="1"/>
<rect x="615" y="55" width="2" height="1"/>
<rect x="615" y="89" width="2" height="1"/>
<rect x="615" y="122" width="2" height="1"/>
<rect x="615" y="156" width="2" height="1"/>
<rect x="615" y="189" width="2" height="1"/>
<rect x="615" y="223" width="2" height="1"/>
<rect x="615" y="256" width="2" height="1"/>
<rect x="615" y="264" width="1" height="1"/>
<rect x="615" y="284" width="1" height="1"/>
<rect x="615" y="300" width="1" height="1"/>
<rect x="615" y="305" width="1" height="1"/>
<rect x="615" y="324" width="1" height="1"/>
<rect x="615" y="344" width="1" height="1"/>
<rect x="615" y="352" width="1" height="1"/>
<rect x="615" y="379" width="1" height="1"/>
<rect x="5" y="381" width="1" height="3"/>
<rect x="69" y="381" width="1" height="3"/>
<rect x="133" y="381" width="1" height="3"/>
<rect x="197" y="381" width="1" height="3"/>
<rect x="261" y="381" width="1" height="3"/>
<rect x="325" y="381" width="1" height="3"/>
<rect x="389" y="381" width="1" height="3"/>
<rect x="453" y="381" width="1" height="3"/>
</g>
<rect x="616" y="125" width="36" height="11" fill="#000" shape-rendering="crispEdges"/>
<text transform="translate(620 25.1) scale(1 1.08)" font-family="Liberation Sans, sans-serif" font-size="9.33" fill="#000" stroke="#000" stroke-width="0.14" >0.8735</text>
<text transform="translate(620 58.1) scale(1 1.08)" font-family="Liberation Sans, sans-serif" font-size="9.33" fill="#000" stroke="#000" stroke-width="0.14" >0.8685</text>
<text transform="translate(620 92.1) scale(1 1.08)" font-family="Liberation Sans, sans-serif" font-size="9.33" fill="#000" stroke="#000" stroke-width="0.14" >0.8635</text>
<text transform="translate(620 125.1) scale(1 1.08)" font-family="Liberation Sans, sans-serif" font-size="9.33" fill="#000" stroke="#000" stroke-width="0.14" >0.8585</text>
<text transform="translate(620 159.1) scale(1 1.08)" font-family="Liberation Sans, sans-serif" font-size="9.33" fill="#000" stroke="#000" stroke-width="0.14" >0.8535</text>
<text transform="translate(620 192.1) scale(1 1.08)" font-family="Liberation Sans, sans-serif" font-size="9.33" fill="#000" stroke="#000" stroke-width="0.14" >0.8485</text>
<text transform="translate(620 226.1) scale(1 1.08)" font-family="Liberation Sans, sans-serif" font-size="9.33" fill="#000" stroke="#000" stroke-width="0.14" >0.8435</text>
<text transform="translate(620 259.1) scale(1 1.08)" font-family="Liberation Sans, sans-serif" font-size="9.33" fill="#000" stroke="#000" stroke-width="0.14" >0.8385</text>
<rect x="616" y="125" width="36" height="11" fill="#000" shape-rendering="crispEdges"/>
<text transform="translate(620 133.9) scale(1 1.08)" font-family="Liberation Sans, sans-serif" font-size="9.33" fill="#fff" stroke="#fff" stroke-width="0.14" >0.8572</text>
<text transform="translate(617.9 272.3) scale(1 1.08)" font-family="Liberation Sans, sans-serif" font-size="9.33" fill="#000" stroke="#000" stroke-width="0.14" >0.01031</text>
<text transform="translate(617.9 286.8) scale(1 1.08)" font-family="Liberation Sans, sans-serif" font-size="9.33" fill="#000" stroke="#000" stroke-width="0.14" >0.00</text>
<text transform="translate(617.9 298.3) scale(1 1.08)" font-family="Liberation Sans, sans-serif" font-size="9.33" fill="#000" stroke="#000" stroke-width="0.14" >-0.00799</text>
<text transform="translate(617.9 313.9) scale(1 1.08)" font-family="Liberation Sans, sans-serif" font-size="9.33" fill="#000" stroke="#000" stroke-width="0.14" >0.003439</text>
<text transform="translate(617.9 326.8) scale(1 1.08)" font-family="Liberation Sans, sans-serif" font-size="9.33" fill="#000" stroke="#000" stroke-width="0.14" >0.00</text>
<text transform="translate(617.9 344) scale(1 1.08)" font-family="Liberation Sans, sans-serif" font-size="9.33" fill="#000" stroke="#000" stroke-width="0.14" >-0.00395</text>
<text transform="translate(617.9 360) scale(1 1.08)" font-family="Liberation Sans, sans-serif" font-size="9.33" fill="#000" stroke="#000" stroke-width="0.14" >0.0291</text>
<text transform="translate(617.9 377) scale(1 1.08)" font-family="Liberation Sans, sans-serif" font-size="9.33" fill="#000" stroke="#000" stroke-width="0.14" >0</text>
<text transform="translate(20.5 15.7) scale(1 1.08)" font-family="Liberation Sans, sans-serif" font-size="9.33" fill="#000" stroke="#000" stroke-width="0.14" >NZDUSD,H4</text>
<text transform="translate(80.3 15.7) scale(1 1.08)" font-family="Liberation Sans, sans-serif" font-size="9.33" fill="#000" stroke="#000" stroke-width="0.14" textLength="120.4" lengthAdjust="spacing">0.8574 0.8574 0.8568 0.8572</text>
<polygon points="8,11 15.4,11 11.7,15.2" fill="#000"/>
<text transform="translate(9.5 275.2) scale(1 1.08)" font-family="Liberation Sans, sans-serif" font-size="9.33" fill="#000" stroke="#000" stroke-width="0.14" >AO</text>
<text transform="translate(27.2 275.2) scale(1 1.08)" font-family="Liberation Sans, sans-serif" font-size="9.33" fill="#000" stroke="#000" stroke-width="0.14" textLength="36" lengthAdjust="spacingAndGlyphs">-0.00716</text>
<text transform="translate(9.7 316.2) scale(1 1.08)" font-family="Liberation Sans, sans-serif" font-size="9.33" fill="#000" stroke="#000" stroke-width="0.14" >AC</text>
<text transform="translate(26.15 316.2) scale(1 1.08)" font-family="Liberation Sans, sans-serif" font-size="9.33" fill="#000" stroke="#000" stroke-width="0.14" textLength="41.1" lengthAdjust="spacingAndGlyphs">-0.001785</text>
<text transform="translate(9.1 361.9) scale(1 1.08)" font-family="Liberation Sans, sans-serif" font-size="9.33" fill="#000" stroke="#000" stroke-width="0.14" textLength="14.0" lengthAdjust="spacingAndGlyphs">BW</text>
<text transform="translate(25.9 361.9) scale(1 1.08)" font-family="Liberation Sans, sans-serif" font-size="9.33" fill="#000" stroke="#000" stroke-width="0.14" textLength="17.2" lengthAdjust="spacingAndGlyphs">MFI</text>
<text transform="translate(47.0 361.9) scale(1 1.08)" font-family="Liberation Sans, sans-serif" font-size="9.33" fill="#000" stroke="#000" stroke-width="0.14" >0.0245</text>
<text transform="translate(4 392.8) scale(1 1.08)" font-family="Liberation Sans, sans-serif" font-size="9.33" fill="#000" stroke="#000" stroke-width="0.14" >7 Mar 2014</text>
<text transform="translate(68 392.8) scale(1 1.08)" font-family="Liberation Sans, sans-serif" font-size="9.33" fill="#000" stroke="#000" stroke-width="0.14" >12 Mar 00:00</text>
<text transform="translate(132 392.8) scale(1 1.08)" font-family="Liberation Sans, sans-serif" font-size="9.33" fill="#000" stroke="#000" stroke-width="0.14" >14 Mar 16:00</text>
<text transform="translate(196 392.8) scale(1 1.08)" font-family="Liberation Sans, sans-serif" font-size="9.33" fill="#000" stroke="#000" stroke-width="0.14" >19 Mar 08:00</text>
<text transform="translate(260 392.8) scale(1 1.08)" font-family="Liberation Sans, sans-serif" font-size="9.33" fill="#000" stroke="#000" stroke-width="0.14" >24 Mar 00:00</text>
<text transform="translate(324 392.8) scale(1 1.08)" font-family="Liberation Sans, sans-serif" font-size="9.33" fill="#000" stroke="#000" stroke-width="0.14" >26 Mar 16:00</text>
<text transform="translate(388 392.8) scale(1 1.08)" font-family="Liberation Sans, sans-serif" font-size="9.33" fill="#000" stroke="#000" stroke-width="0.14" >31 Mar 08:00</text>
<text transform="translate(452 392.8) scale(1 1.08)" font-family="Liberation Sans, sans-serif" font-size="9.33" fill="#000" stroke="#000" stroke-width="0.14" >3 Apr 00:00</text>
</svg>
</body></html>
